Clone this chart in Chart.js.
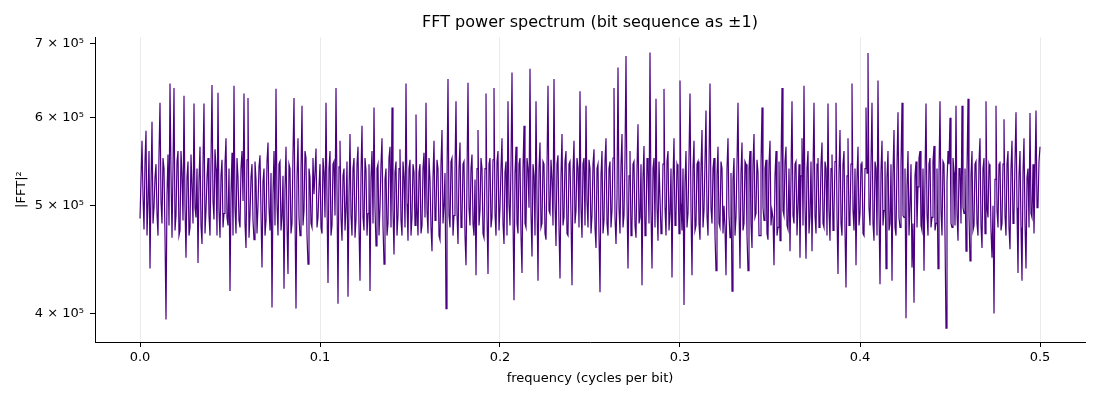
<!DOCTYPE html>
<html>
<head>
<meta charset="utf-8">
<title>FFT power spectrum</title>
<script src="https://cdn.jsdelivr.net/npm/chart.js@4.4.1/dist/chart.umd.min.js"></script>
<style>
  html, body { margin: 0; padding: 0; background: #fff; }
  #wrap { width: 1100px; height: 400px; }
</style>
</head>
<body>
<div id="wrap"><canvas id="spectrum" width="1100" height="400"></canvas></div>
<script>
// |FFT|^2, in units of 1000 (one value per bin, 0 .. 0.5 cycles/bit)
const powerK = [
  487,528,572,510,476,548,584,470,505,560,439,520,595,482,498,530,545,492,470,556,
  619,505,482,552,540,470,395,512,556,480,644,535,468,540,638,475,490,548,560,470,
  475,560,532,485,628,500,449,530,548,470,478,556,520,482,618,498,488,540,444,526,
  565,480,462,545,618,472,495,530,552,490,470,548,642,505,486,562,540,470,632,495,
  468,532,550,478,492,545,575,488,480,540,419,512,558,470,641,498,472,552,530,485,
  478,540,560,505,631,482,458,550,625,468,490,530,545,485,466,548,528,472,500,542,
  555,492,440,526,540,470,485,548,570,498,475,535,405,512,560,480,637,502,470,545,
  548,475,490,532,421,518,565,480,434,545,540,472,482,556,625,490,404,530,575,488,
  470,538,615,480,495,560,552,470,443,540,530,482,478,552,512,536,563,478,488,520,
  545,478,472,552,535,488,619,505,426,540,560,470,480,545,548,490,638,515,408,542,
  572,488,465,532,540,475,498,548,414,510,580,490,470,540,552,468,486,545,565,478,
  428,535,590,488,475,552,538,470,492,545,419,530,560,482,613,498,460,540,545,470,
  498,545,575,480,443,528,540,470,482,552,565,478,613,495,452,536,548,470,490,540,
  562,485,470,548,530,478,644,502,465,540,550,470,488,545,536,480,604,498,470,536,
  545,472,480,540,558,488,619,495,472,552,528,478,455,530,572,485,492,550,540,470,
  466,545,585,482,500,535,404,528,650,490,478,548,552,470,490,538,621,492,462,540,
  570,478,485,545,548,470,442,530,645,498,480,540,556,482,470,528,433,540,585,480,
  495,552,540,472,468,540,631,490,434,545,552,478,488,550,638,492,470,548,560,475,
  498,540,575,482,462,536,548,470,621,502,480,545,659,488,411,535,565,482,472,545,
  552,470,435,540,590,482,478,552,540,498,664,492,450,545,532,470,621,505,428,540,
  570,478,482,548,545,472,466,540,641,495,492,550,528,480,650,502,460,545,555,478,
  430,532,580,480,488,548,560,472,470,545,548,490,424,538,572,482,495,552,540,478,
  634,498,468,545,552,480,615,505,478,550,540,472,490,545,562,478,458,540,545,470,
  418,532,560,472,485,548,575,482,470,540,548,478,495,552,638,488,462,510,666,498,
  472,545,580,478,490,552,682,505,439,532,560,470,480,545,548,480,468,540,592,482,
  488,545,424,530,566,470,478,552,540,482,687,495,439,540,552,478,624,500,465,548,
  548,472,482,545,637,498,470,548,560,475,492,540,431,528,575,480,488,545,540,472,
  648,502,475,540,407,525,560,478,492,552,631,495,433,540,572,475,480,545,548,482,
  466,540,585,478,495,548,609,490,470,545,644,498,482,540,552,470,437,532,565,482,
  478,548,540,472,500,478,433,540,575,490,468,535,419,528,552,470,488,545,619,498,
  439,535,570,475,482,548,545,470,437,540,560,482,458,545,580,488,492,550,536,470,
  470,545,613,498,485,540,550,472,466,545,572,480,495,488,442,532,560,470,478,548,
  465,540,638,495,490,548,565,480,476,540,455,532,621,490,482,545,548,470,500,545,
  449,532,575,480,641,500,448,540,560,472,490,548,455,535,619,490,472,545,552,478,
  486,545,570,482,478,548,540,470,618,495,465,540,556,475,492,548,619,490,434,535,
  585,482,470,545,560,475,422,532,575,480,488,545,644,495,475,540,442,530,565,480,
  492,545,548,472,470,540,613,535,686,498,480,545,619,482,465,548,540,470,648,495,
  425,538,572,480,495,548,439,530,560,475,482,545,428,535,585,478,470,545,607,488,
  478,545,619,490,488,540,396,520,560,470,500,545,440,482,409,532,548,478,520,552,
  560,480,475,540,437,530,618,492,470,545,552,478,488,548,566,475,482,540,439,532,
  621,495,470,548,545,470,388,525,560,545,600,482,478,552,536,480,615,492,465,540,
  540,482,615,498,492,540,455,536,624,490,446,532,560,475,480,545,548,482,470,548,
  575,480,458,540,552,472,621,498,488,545,540,475,449,500,400,528,615,495,478,545,
  548,475,482,545,598,490,470,545,560,478,457,540,572,482,490,548,607,498,435,532,
  560,478,428,535,575,482,439,530,540,478,606,492,488,545,472,530,609,498,500,548,
  565
];

// frequency of each bin (cycles per bit)
const freqs = powerK.map((_, i) => i * 0.5 / (powerK.length - 1));

const xTicks = [0, 0.1, 0.2, 0.3, 0.4, 0.5];
const yTicks = [400000, 500000, 600000, 700000];
const yTickLabels = ['4 × 10⁵', '5 × 10⁵', '6 × 10⁵', '7 × 10⁵'];

const font = 'DejaVu Sans';

function createSpectrumChart() {
    const points = powerK.map((v, i) => ({ x: freqs[i], y: v * 1000 }));

    new Chart(document.getElementById('spectrum'), {
        type: 'line',
        data: {
            datasets: [{
                data: points,
                borderColor: '#4b0082',
                borderWidth: 1.2,
                pointRadius: 0,
                tension: 0,
                fill: false
            }]
        },
        options: {
            responsive: false,
            animation: false,
            devicePixelRatio: 1,
            layout: { padding: { left: 0, right: 15, top: 0, bottom: 0 } },
            plugins: {
                legend: { display: false },
                tooltip: { enabled: false },
                title: {
                    display: true,
                    fullSize: false,
                    text: 'FFT power spectrum (bit sequence as ±1)',
                    color: '#000',
                    font: { family: font, size: 16, weight: 'normal' },
                    padding: { top: 13, bottom: 5 }
                }
            },
            scales: {
                x: {
                    type: 'linear',
                    min: -0.025,
                    max: 0.525,
                    afterBuildTicks: axis => { axis.ticks = xTicks.map(v => ({ value: v })); },
                    afterFit: axis => { axis.height = 58; },
                    ticks: {
                        color: '#000',
                        font: { family: font, size: 13 },
                        padding: 3,
                        maxRotation: 0,
                        callback: v => v.toFixed(1)
                    },
                    grid: {
                        color: '#ebebeb',
                        tickColor: '#000',
                        tickLength: 5,
                        lineWidth: 1
                    },
                    border: { display: true, color: '#000', width: 1 },
                    title: {
                        display: true,
                        text: 'frequency (cycles per bit)',
                        color: '#000',
                        font: { family: font, size: 13 },
                        padding: { top: 0, bottom: 14 }
                    }
                },
                y: {
                    type: 'logarithmic',
                    min: 377000,
                    max: 709000,
                    afterBuildTicks: axis => { axis.ticks = yTicks.map(v => ({ value: v })); },
                    afterFit: axis => { axis.width = 95; },
                    ticks: {
                        color: '#000',
                        font: { family: font, size: 13 },
                        padding: 6,
                        callback: v => yTickLabels[yTicks.indexOf(v)]
                    },
                    grid: {
                        display: true,
                        drawOnChartArea: false,
                        color: '#000',
                        tickLength: 5
                    },
                    border: { display: true, color: '#000', width: 1 },
                    title: {
                        display: true,
                        text: '|FFT|²',
                        color: '#000',
                        font: { family: font, size: 13 },
                        padding: { top: 14, bottom: 0 }
                    }
                }
            }
        }
    });
}

window.onload = function() {
    createSpectrumChart();
};
</script>
</body>
</html>
